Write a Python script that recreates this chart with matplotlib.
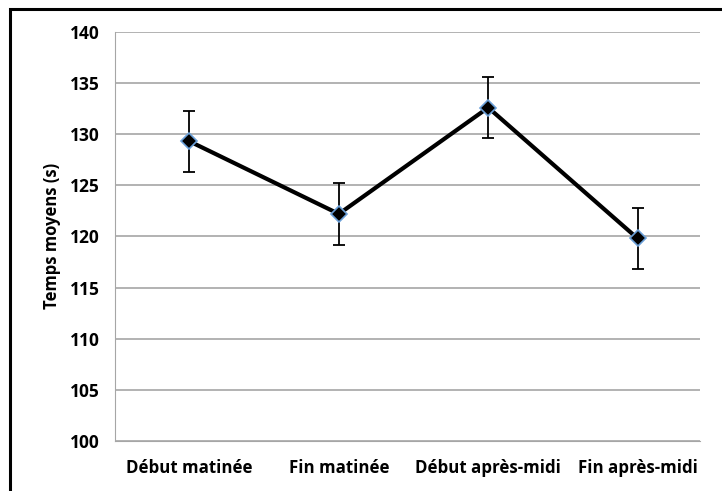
import matplotlib
matplotlib.use('Agg')
import matplotlib.pyplot as plt
from matplotlib.patches import Rectangle

plt.rcParams['font.family'] = ['Open Sans', 'DejaVu Sans']

categories = ['Début matinée', 'Fin matinée', 'Début après-midi', 'Fin après-midi']
means = [129.3, 122.2, 132.6, 119.8]
errors = [3.0, 3.0, 3.0, 3.0]

fig = plt.figure(figsize=(7.22, 4.91), dpi=100)
ax = fig.add_axes([0.159, 0.102, 0.811, 0.833])

x = range(len(categories))
ax.errorbar(x, means, yerr=errors, fmt='none', ecolor='black', elinewidth=1.3,
            capsize=4, capthick=1.3, zorder=2)
ax.plot(x, means, color='black', linewidth=3, marker='D', markersize=8,
        markerfacecolor='black', markeredgecolor='#6a9fd8', markeredgewidth=1.2, zorder=3)

ax.set_xlim(-0.5, 3.42)
ax.set_ylim(100, 140)
ax.set_yticks(range(100, 141, 5))
ax.set_xticks(list(x))
ax.set_xticklabels(categories, fontsize=12.2, fontweight='bold')
for lab in ax.get_yticklabels():
    lab.set_fontsize(12.5)
    lab.set_fontweight('bold')
ax.set_ylabel('Temps moyens (s)', fontsize=12, fontweight='bold', labelpad=6)

ax.yaxis.grid(True, color='#a6a6a6', linewidth=1.2)
ax.set_axisbelow(True)
for s in ['top', 'right']:
    ax.spines[s].set_visible(False)
ax.spines['left'].set_color('#a6a6a6')
ax.spines['bottom'].set_color('#a6a6a6')
ax.tick_params(axis='y', length=0, pad=11)
ax.tick_params(axis='x', length=0, pad=13)

# cadre noir autour du graphique
fig.patches.append(Rectangle((10 / 722, -0.1), 1.2, 1 - 9 / 491 + 0.1, transform=fig.transFigure,
                             fill=False, edgecolor='black', linewidth=2.2))

fig.savefig('out.png', dpi=100)
